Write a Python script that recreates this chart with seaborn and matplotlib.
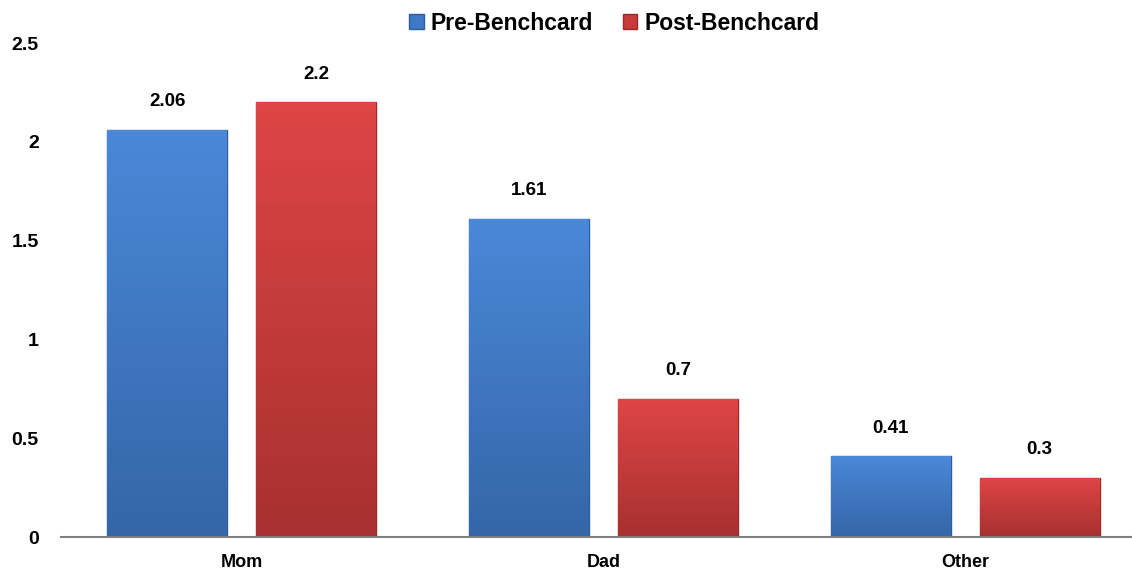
import matplotlib
matplotlib.use("Agg")
import matplotlib.pyplot as plt
import seaborn as sns
import pandas as pd
import numpy as np
from matplotlib.patches import Patch

categories = ["Mom", "Dad", "Other"]
series_names = ["Pre-Benchcard", "Post-Benchcard"]
pre_values = [2.06, 1.61, 0.41]
post_values = [2.2, 0.7, 0.3]
y_ticks = [0, 0.5, 1, 1.5, 2, 2.5]
y_tick_labels = ["0", "0.5", "1", "1.5", "2", "2.5"]

df = pd.DataFrame({
    "category": categories * 2,
    "series": [series_names[0]] * 3 + [series_names[1]] * 3,
    "value": pre_values + post_values,
})

sns.set_theme(style="white")
plt.rcParams["font.family"] = ["Liberation Sans", "DejaVu Sans"]
plt.rcParams["text.color"] = "black"
plt.rcParams["xtick.color"] = "black"
plt.rcParams["ytick.color"] = "black"
plt.rcParams["xtick.labelcolor"] = "black"
plt.rcParams["ytick.labelcolor"] = "black"

fig = plt.figure(figsize=(11.32, 5.71), dpi=100)
ax = fig.add_axes([61 / 1132, (571 - 537) / 571, (1146 - 61) / 1132, (537 - 43) / 571])

palette = {series_names[0]: "#3f78c6", series_names[1]: "#c83b3b"}
edges = {series_names[0]: "#2f5d9c", series_names[1]: "#9a2a2a"}
sns.barplot(data=df, x="category", y="value", hue="series", order=categories,
            hue_order=series_names, palette=palette, width=0.824, gap=0.195,
            ax=ax, legend=False, saturation=1)

for i, cont in enumerate(ax.containers):
    name = series_names[i]
    if i == 0:
        top, bot = np.array([0x4b, 0x88, 0xd8]) / 255, np.array([0x34, 0x66, 0xa8]) / 255
    else:
        top, bot = np.array([0xde, 0x45, 0x45]) / 255, np.array([0xa8, 0x30, 0x30]) / 255
    for bar in cont:
        x0, y0 = bar.get_x(), bar.get_y()
        w, h = bar.get_width(), bar.get_height()
        grad = np.linspace(0, 1, 100)[:, None, None]
        img = top[None, None, :] * (1 - grad) + bot[None, None, :] * grad
        im = ax.imshow(img, extent=[x0, x0 + w, y0, y0 + h], aspect="auto",
                       origin="upper", zorder=bar.get_zorder() + 0.1)
        im.set_clip_path(bar)
        bar.set_edgecolor(edges[name])
        bar.set_linewidth(1.0)
    ax.bar_label(cont, labels=[f"{v:g}" for v in (pre_values if i == 0 else post_values)],
                 padding=14, fontsize=13.5, fontweight="bold", color="black")

ax.set_xlim(-0.5, 2.5)
ax.set_ylim(0, 2.5)
ax.set_yticks(y_ticks)
ax.set_yticklabels(y_tick_labels, fontsize=14, fontweight="bold", color="black")
ax.set_xticklabels(categories, fontsize=13, fontweight="bold", color="black")
ax.tick_params(axis="y", length=0, pad=16)
ax.tick_params(axis="x", length=0, pad=12)
ax.set_xlabel("")
ax.set_ylabel("")
for s in ["top", "right", "left"]:
    ax.spines[s].set_visible(False)
ax.spines["bottom"].set_color("#808080")
ax.spines["bottom"].set_linewidth(1.5)

handles = [Patch(facecolor=palette[n], edgecolor=edges[n], label=n) for n in series_names]
leg = fig.legend(handles=handles, loc="center", bbox_to_anchor=(614 / 1132, 1 - 23 / 571),
                 ncol=2, frameon=False, prop={"size": 16.5, "weight": "bold"},
                 handlelength=0.65, handleheight=0.65, handletextpad=0.3, columnspacing=1.3,
                 labelcolor="black")

fig.savefig("out.png", dpi=100)
